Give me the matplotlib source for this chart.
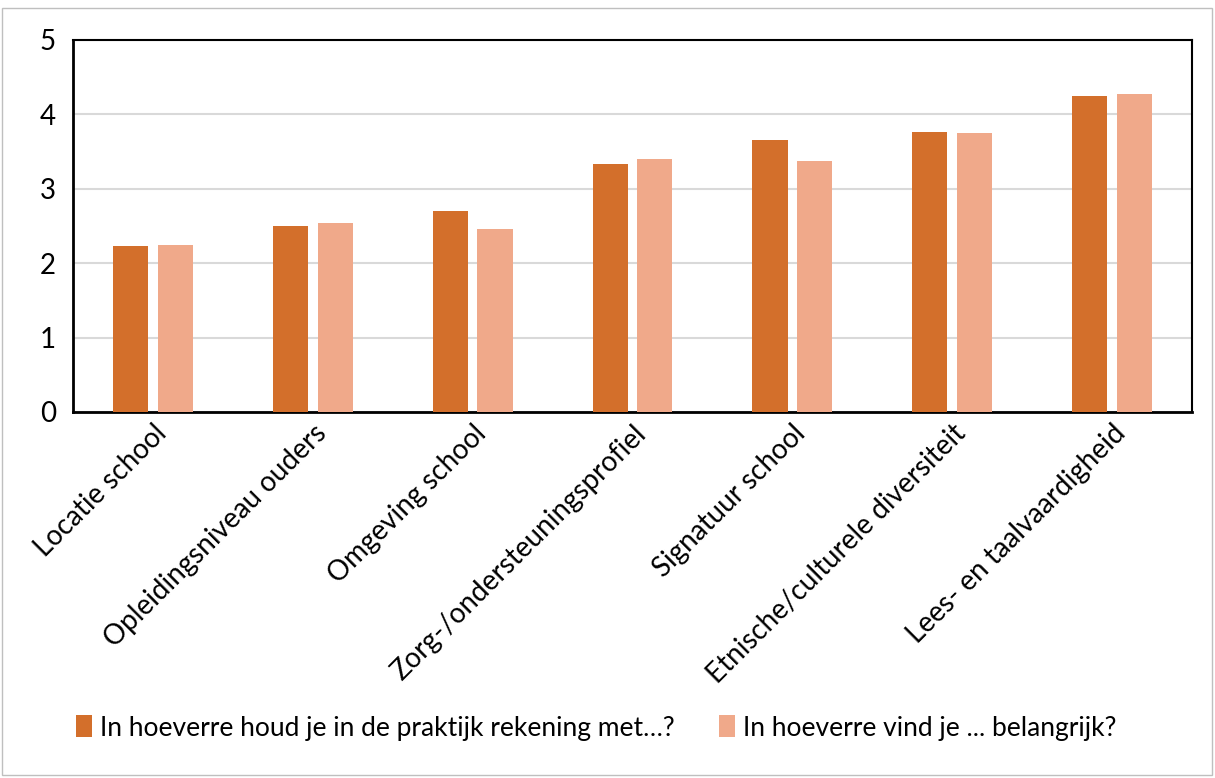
import numpy as np
import matplotlib
matplotlib.use("Agg")
import matplotlib.pyplot as plt
from matplotlib.patches import Rectangle

plt.rcParams['font.family'] = ['Lato', 'DejaVu Sans']

categories = ["Locatie school", "Opleidingsniveau ouders", "Omgeving school",
              "Zorg-/ondersteuningsprofiel", "Signatuur school",
              "Etnische/culturele diversiteit", "Lees- en taalvaardigheid"]
praktijk = [2.23, 2.50, 2.70, 3.34, 3.66, 3.76, 4.25]
belangrijk = [2.25, 2.54, 2.46, 3.40, 3.37, 3.75, 4.28]
series_names = ["In hoeverre houd je in de praktijk rekening met\u2026?",
                "In hoeverre vind je ... belangrijk?"]

fig = plt.figure(figsize=(12.15, 7.78), dpi=100)
ax = fig.add_axes([73 / 1215, 1 - 412 / 778, 1119 / 1215, 372 / 778])

x = np.arange(len(categories))
w = 0.22
off = 0.14
ax.bar(x - off, praktijk, w, color="#D36F2B", label=series_names[0], zorder=3)
ax.bar(x + off, belangrijk, w, color="#F0A98A", label=series_names[1], zorder=3)

ax.set_xlim(-0.5, len(categories) - 0.5)
ax.set_ylim(0, 5)
ax.set_yticks(range(6))
ax.yaxis.grid(True, color="#d9d9d9", linewidth=1.5, zorder=0)
ax.set_axisbelow(True)
ax.tick_params(axis="y", length=0, labelsize=20, pad=24)
ax.tick_params(axis="x", length=0, labelsize=20, pad=6)
ax.set_xticks(x)
ax.set_xticklabels(categories, rotation=45, ha="right", rotation_mode="anchor")
for lbl in ax.get_yticklabels():
    lbl.set_horizontalalignment("left")
for s in ax.spines.values():
    s.set_color("black")
    s.set_linewidth(1.5)
ax.spines["left"].set_linewidth(2)
ax.spines["bottom"].set_linewidth(2)

fig.legend(loc="center left", bbox_to_anchor=(52 / 1215, 1 - 728 / 778),
           ncol=2, frameon=False, fontsize=19, handlelength=0.6,
           handleheight=0.9, handletextpad=0.3, columnspacing=1.7)

fig.patches.append(Rectangle((2 / 1215, 3 / 778), 1210 / 1215, 767 / 778,
                             transform=fig.transFigure, fill=False,
                             edgecolor="#bfbfbf", linewidth=1))

fig.savefig("out.png", dpi=100)
